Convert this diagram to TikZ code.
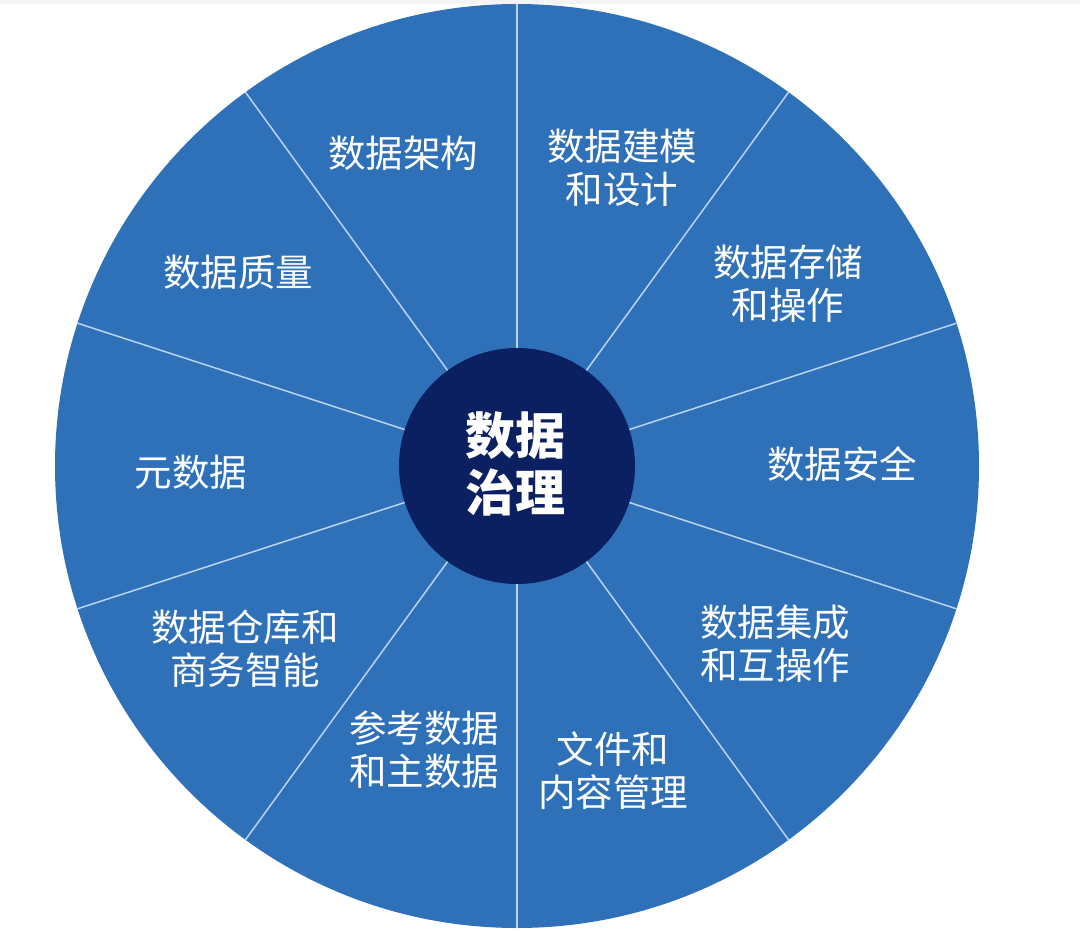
\documentclass[tikz,border=0pt]{standalone}
\usepackage{fontspec}
\setmainfont{Noto Sans CJK SC}
\definecolor{segblue}{HTML}{2E71B9}
\definecolor{navy}{HTML}{0B2060}
\definecolor{divider}{HTML}{BCD3EE}
\definecolor{topband}{HTML}{F4F4F4}
\tikzset{
  lbl/.style={text=white, font=\fontsize{37.5}{43}\selectfont, align=center, inner sep=0pt},
  ctr/.style={text=white, font=\fontsize{50}{57}\selectfont\bfseries, align=center, inner sep=0pt},
  divline/.style={draw=divider, line width=1.5pt},
}
\begin{document}
\begin{tikzpicture}[x=1pt,y=-1pt]
\useasboundingbox (0,0) rectangle (1080,931);
\fill[white] (0,0) rectangle (1080,931);
\fill[topband] (0,0) rectangle (1080,4);
\node[circle, fill=segblue, minimum size=924pt, inner sep=0pt] (o) at (517,466) {};
\node[circle, minimum size=236pt, inner sep=0pt] (c0) at (517,466) {};
\foreach \a in {90,54,18,-18,-54,-90,-126,-162,162,126}{
  \draw[divline] (c0.center) -- (o.\a);
}
\node[circle, fill=navy, minimum size=236pt, inner sep=0pt] (c) at (517,466) {};
\node[ctr] (title) at (515,464) {数据\\治理};
\node[lbl] (l1) at (403,153) {数据架构};
\node[lbl] (l2) at (622,168) {数据建模\\和设计};
\node[lbl] (l3) at (788,284) {数据存储\\和操作};
\node[lbl] (l4) at (842,464) {数据安全};
\node[lbl] (l5) at (775,644) {数据集成\\和互操作};
\node[lbl] (l6) at (613,771) {文件和\\内容管理};
\node[lbl] (l7) at (424,750) {参考数据\\和主数据};
\node[lbl] (l8) at (245,649) {数据仓库和\\商务智能};
\node[lbl] (l9) at (191,472) {元数据};
\node[lbl] (l10) at (238,272) {数据质量};
\end{tikzpicture}
\end{document}
